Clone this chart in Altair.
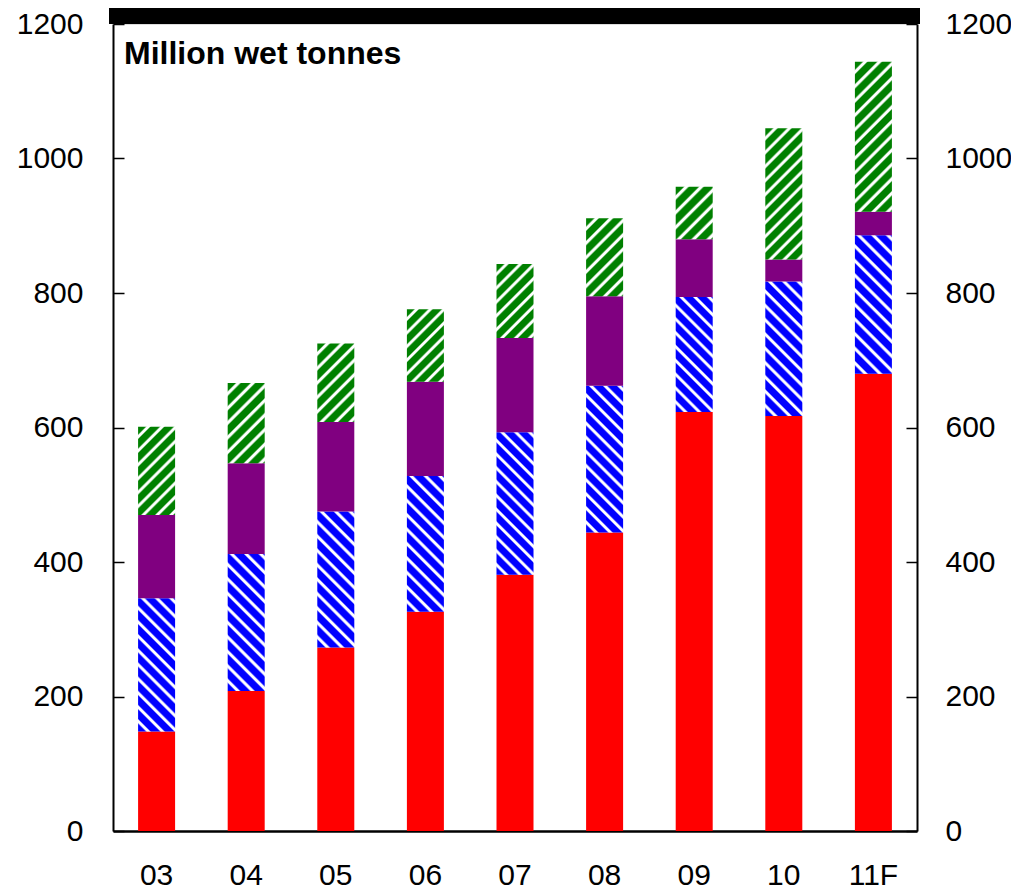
import math
import altair as alt
import pandas as pd

# ---------------- data ----------------
years = ["03", "04", "05", "06", "07", "08", "09", "10", "11F"]
series = ["s1", "s2", "s3", "s4"]  # bottom -> top
s1_red = [148, 208, 273, 326, 381, 444, 623, 617, 680]
s2_blue = [198, 204, 202, 202, 212, 218, 171, 200, 206]
s3_purple = [124, 135, 133, 140, 140, 133, 86, 33, 35]
s4_green = [131, 119, 117, 108, 110, 116, 78, 195, 223]
y_ticks = [0, 200, 400, 600, 800, 1000, 1200]
title_text = "Million wet tonnes"

# ---------------- layout ----------------
W, H = 804, 807
Y_MAX = 1200
P_IN, P_OUT = 0.587, 0.28
STEP = W / (len(years) - P_IN + 2 * P_OUT)
BAR_W = (1 - P_IN) * STEP
PX_PER_UNIT = H / Y_MAX
FONT = "Liberation Sans"

styles = {
    "s1": ("solid", "#ff0000"),
    "s2": ("back", "#0000ff"),   # "\" stripes
    "s3": ("solid", "#800080"),
    "s4": ("fwd", "#008000"),    # "/" stripes
}


def stripe_gradient(kind, color, h, w=BAR_W, period=10.0):
    """Linear gradient (objectBoundingBox units) that draws 45 deg stripes."""
    h = max(h, 1.0)
    s = (w + h) / (w * w + h * h)
    if kind == "back":
        x1, y1, x2, y2 = 0.0, 1.0, s * w, 1.0 - s * h
    else:
        x1, y1, x2, y2 = 0.0, 0.0, s * w, s * h
    n = max(1, round((w + h) / (math.sqrt(2) * period)))
    stops = []
    for k in range(n):
        b = k / n
        for f, c in [(0.0, color), (0.50, color), (0.64, "#ffffff"),
                     (0.80, "#ffffff"), (0.94, color)]:
            stops.append({"offset": round(b + f / n, 5), "color": c})
    stops.append({"offset": 1.0, "color": color})
    return {"gradient": "linear", "x1": x1, "y1": y1, "x2": x2, "y2": y2,
            "stops": stops}


rows = []
for i, yr in enumerate(years):
    for j, (ser, vals) in enumerate(zip(series, [s1_red, s2_blue, s3_purple, s4_green])):
        kind, col = styles[ser]
        v = vals[i]
        fill = col if kind == "solid" else stripe_gradient(kind, col, v * PX_PER_UNIT)
        rows.append({"year": yr, "series": ser, "order": j, "value": v, "grad": fill})
df = pd.DataFrame(rows)

x_enc = alt.X("year:N", sort=years,
              scale=alt.Scale(paddingInner=P_IN, paddingOuter=P_OUT),
              axis=alt.Axis(title=None, labelAngle=0, ticks=False, tickSize=0,
                            labelBaseline="alphabetic", labelPadding=53,
                            labelFontSize=30, labelFont=FONT,
                            labelColor="#000000", domainColor="#000000",
                            domainWidth=2.5, grid=False))
y_scale = alt.Scale(domain=[0, Y_MAX], nice=False, zero=True)

base = alt.Chart(df)

bars = base.mark_bar().encode(
    x=x_enc,
    y=alt.Y("value:Q", stack="zero", scale=y_scale,
            axis=alt.Axis(title=None, orient="left", values=y_ticks, format="d",
                          ticks=False, tickSize=0, labelPadding=30,
                          labelFontSize=30, labelFont=FONT, labelColor="#000000",
                          domainColor="#000000", domainWidth=2,
                          grid=True, gridColor="#000000", gridWidth=1.5,
                          gridDash=[11, W - 22], gridOpacity=1)),
    fill=alt.Fill("grad:N", scale=None, legend=None),
    order=alt.Order("order:Q", sort="ascending"),
    detail="series:N",
)

right_axis = base.mark_bar(opacity=0).encode(
    x=x_enc,
    y=alt.Y("value:Q", stack="zero", scale=y_scale,
            axis=alt.Axis(title=None, orient="right", values=y_ticks, format="d",
                          ticks=False, tickSize=0, labelPadding=28,
                          labelFontSize=30, labelFont=FONT, labelColor="#000000",
                          domainColor="#000000", domainWidth=2, grid=False)),
    order=alt.Order("order:Q", sort="ascending"),
    detail="series:N",
)

one = alt.Data(values=[{"k": 1}])

top_band = alt.Chart(one).mark_rect(color="#000000").encode(
    x=alt.value(-4), x2=alt.value(W + 3), y=alt.value(-20), y2=alt.value(0)
)

title = alt.Chart(one).mark_text(
    align="left", baseline="alphabetic", fontSize=32, fontWeight="bold",
    font=FONT, color="#000000"
).encode(x=alt.value(11), y=alt.value(40), text=alt.value(title_text))

chart = alt.layer(bars, right_axis, top_band, title).resolve_axis(
    y="independent"
).properties(
    width=W, height=H,
    autosize=alt.AutoSizeParams(type="none"),
    padding={"left": 105, "right": 94, "top": 16, "bottom": 70},
).configure_view(stroke=None).configure(background="#ffffff")

chart.save("out.html", embed_options={"renderer": "svg", "actions": False})
